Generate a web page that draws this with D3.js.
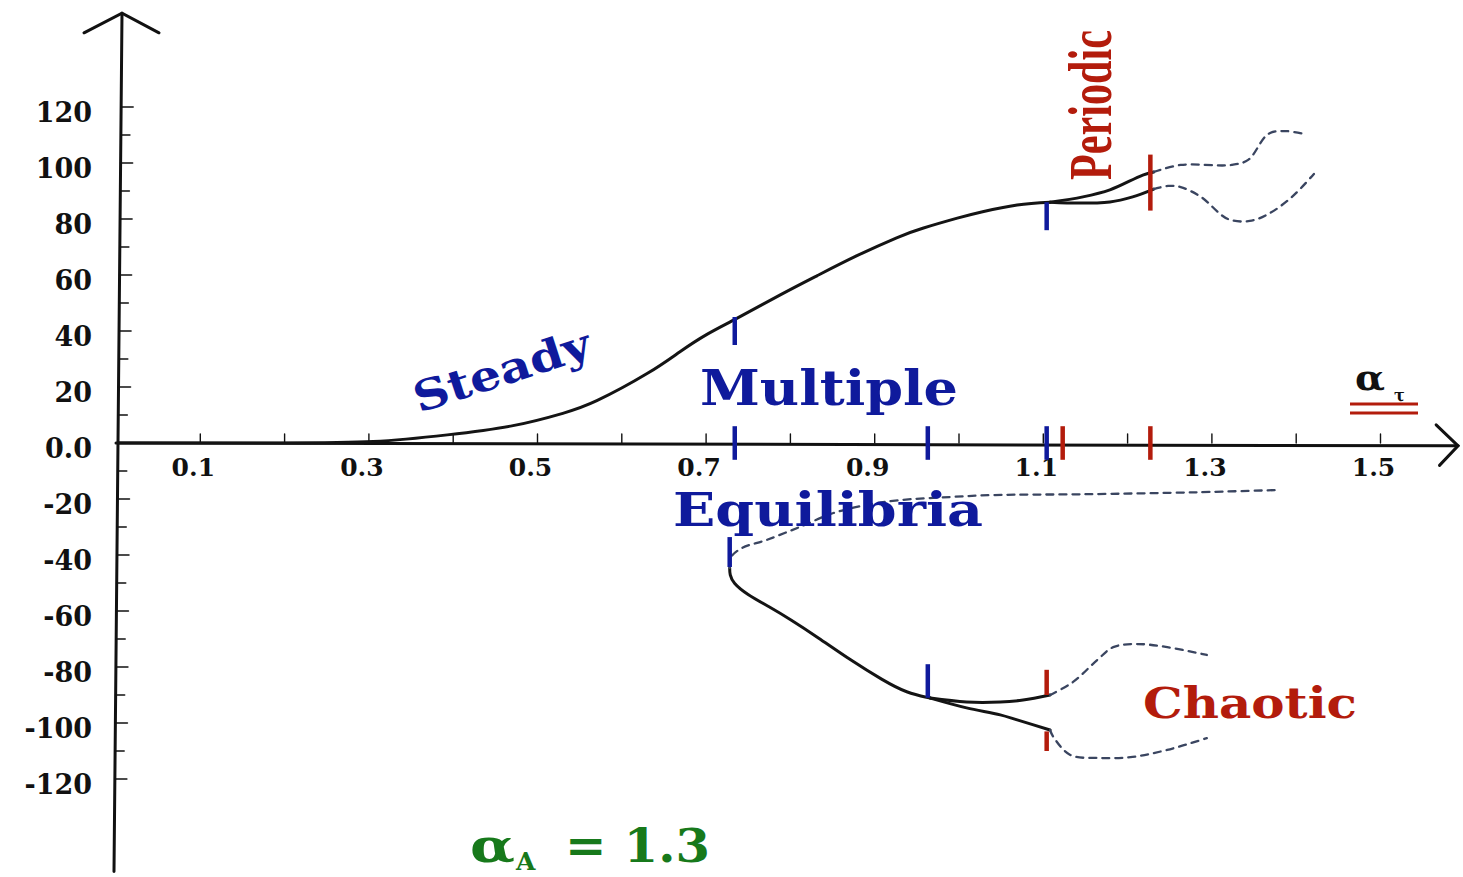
<!DOCTYPE html>
<html>
<head>
<meta charset="utf-8">
<script src="https://cdn.jsdelivr.net/npm/d3@7"></script>
<style>
  html, body { margin: 0; padding: 0; background: #fff; }
  svg { display: block; }
</style>
</head>
<body>
<svg id="chart" width="1463" height="877"></svg>
<script>
// Bifurcation diagram: response amplitude vs. alpha_tau, for alpha_A = 1.3

// Tick values and labels
const xTickValues = [0.1, 0.2, 0.3, 0.4, 0.5, 0.6, 0.7, 0.8, 0.9, 1.0, 1.1, 1.2, 1.3, 1.4, 1.5];
const xTickLabels = ["0.1", "0.3", "0.5", "0.7", "0.9", "1.1", "1.3", "1.5"];
const yTickValues = [120, 110, 100, 90, 80, 70, 60, 50, 40, 30, 20, 10, 0, -10, -20, -30, -40, -50, -60, -70, -80, -90, -100, -110, -120];
const yTickLabels = [120, 100, 80, 60, 40, 20, 0, -20, -40, -60, -80, -100, -120];

// Upper steady branch (stable), [alpha, value]
const upperBranch = [[0,0],[0.195,0],[0.305,0.5],[0.393,2.9],[0.471,6.2],[0.530,10.6],[0.571,15.2],[0.630,24.8],[0.669,32.6],[0.701,38.8],[0.737,44.6],[0.788,52.9],[0.832,59.8],[0.879,66.9],[0.926,73.3],[0.957,76.7],[0.998,80.3],[1.028,82.6],[1.069,85.0],[1.108,86.0]];
// Periodic envelope (max / min) after the Hopf point
const periodicMaxSolid = [[1.108,86.0],[1.147,87.9],[1.179,90.4],[1.218,95.7],[1.231,96.8]];
const periodicMaxDashed = [[1.231,96.8],[1.263,99.3],[1.323,99.3],[1.343,101.1],[1.367,110.4],[1.387,111.4],[1.409,110.4]];
const periodicMinSolid = [[1.108,86.0],[1.128,85.7],[1.179,86.1],[1.206,87.9],[1.231,90.7]];
const periodicMinDashed = [[1.231,90.7],[1.248,91.8],[1.263,91.4],[1.287,87.9],[1.319,80.0],[1.345,79.3],[1.367,81.8],[1.395,87.9],[1.421,96.1]];

// Lower branches born at the fold
const lowerUnstable = [[0.728,-44.6],[0.729,-41.0],[0.742,-37.6],[0.772,-34.6],[0.811,-30.0],[0.851,-25.0],[0.891,-22.1],[0.930,-20.4],[0.989,-19.3],[1.040,-18.6],[1.147,-18.3],[1.282,-17.6],[1.378,-16.8]];
const lowerStable = [[0.728,-44.6],[0.728,-47.0],[0.732,-50.0],[0.748,-54.0],[0.775,-58.5],[0.800,-63.0],[0.832,-69.3],[0.871,-77.5],[0.910,-84.8],[0.938,-89.3],[0.966,-91.1]];
const chaosMaxSolid = [[0.966,-91.1],[1.009,-92.5],[1.049,-92.5],[1.076,-91.8],[1.108,-90.0]];
const chaosMinSolid = [[0.966,-91.1],[1.009,-94.6],[1.049,-97.1],[1.069,-98.9],[1.108,-102.5]];
const chaosMaxDashed = [[1.108,-90.0],[1.135,-85.4],[1.164,-77.5],[1.183,-72.9],[1.211,-71.8],[1.247,-72.9],[1.294,-75.7]];
const chaosMinDashed = [[1.108,-102.5],[1.112,-105.0],[1.132,-111.4],[1.167,-112.5],[1.206,-112.1],[1.247,-109.6],[1.294,-105.4]];

// Bifurcation markers: [alpha, from, to, kind]
const markers = [
  [0.734, 6, -6, "blue"], [0.963, 6, -6, "blue"], [1.104, 6, -6, "blue"],
  [1.123, 6, -6, "red"], [1.227, 6, -6, "red"],
  [0.734, 45, 35, "blue"], [1.104, 86, 76, "blue"], [1.227, 103, 83, "red"],
  [0.728, -33.6, -44.3, "blue"], [0.963, -79, -91, "blue"],
  [1.104, -81, -90, "red"], [1.104, -103, -110, "red"]
];

const colors = { blue: "#0f1a9c", red: "#b31c0c", green: "#17791b", ink: "#111" };

const svg = d3.select("#chart");
svg.append("rect").attr("width", 1463).attr("height", 877).attr("fill", "#fff");

const x = d3.scaleLinear().domain([0, 1.6]).range([116, 116 + 843 * 1.6]);
const y = d3.scaleLinear().domain([-150, 150]).range([443 + 2.8 * 150, 443 - 2.8 * 150]);

const axisX0 = x(0) + 3;
const serif = "'DejaVu Serif', serif";

// --- axes ---
const axes = svg.append("g").attr("stroke", colors.ink).attr("fill", "none")
  .attr("stroke-width", 3).attr("stroke-linecap", "round");
// vertical axis with arrowhead
axes.append("line").attr("x1", axisX0 + 3).attr("y1", y(153.5))
  .attr("x2", axisX0 - 5).attr("y2", y(-153));
axes.append("polyline").attr("points",
  [[axisX0 - 35, y(146.5)], [axisX0 + 3, y(153.5)], [axisX0 + 40, y(146.5)]].map(p => p.join(",")).join(" "));
// horizontal axis with arrowhead
axes.append("line").attr("x1", axisX0).attr("y1", y(0)).attr("x2", x(1.592)).attr("y2", y(-1));
axes.append("polyline").attr("points",
  [[x(1.566), y(6.5)], [x(1.592), y(-1)], [x(1.570), y(-8)]].map(p => p.join(",")).join(" "));

// y ticks (to the right of the axis)
const slantAt = v => axisX0 - 1 + (v / 153) * 4;
axes.selectAll("line.ytick").data(yTickValues.filter(v => v !== 0)).join("line")
  .attr("class", "ytick").attr("stroke-width", 1.6)
  .attr("x1", v => slantAt(v)).attr("x2", v => slantAt(v) + (v % 20 === 0 ? 12 : 9))
  .attr("y1", v => y(v)).attr("y2", v => y(v));
// x ticks (upward)
axes.selectAll("line.xtick").data(xTickValues).join("line")
  .attr("class", "xtick").attr("stroke-width", 1.4)
  .attr("x1", v => x(v)).attr("x2", v => x(v))
  .attr("y1", y(0)).attr("y2", y(0) - 9);

// tick labels
svg.append("g").selectAll("text").data(yTickLabels).join("text")
  .attr("x", 92).attr("y", v => y(v) + 15)
  .attr("text-anchor", "end")
  .attr("font-family", serif).attr("font-weight", "bold").attr("font-size", 27)
  .attr("fill", colors.ink)
  .text(v => v === 0 ? "0.0" : String(v));
svg.append("g").selectAll("text").data(xTickLabels).join("text")
  .attr("x", d => x(+d) - 7).attr("y", 476)
  .attr("text-anchor", "middle")
  .attr("font-family", serif).attr("font-weight", "bold").attr("font-size", 25)
  .attr("fill", colors.ink)
  .text(d => d);

// --- curves ---
const smooth = d3.line().x(d => x(d[0])).y(d => y(d[1])).curve(d3.curveNatural);
const basis = d3.line().x(d => x(d[0])).y(d => y(d[1])).curve(d3.curveBasis);
const soft = d3.line().x(d => x(d[0])).y(d => y(d[1])).curve(d3.curveCatmullRom.alpha(0.5));
const curves = svg.append("g").attr("fill", "none").attr("stroke-linecap", "round");
curves.append("path").attr("d", smooth(upperBranch)).attr("stroke", "#141414").attr("stroke-width", 3);
curves.append("path").attr("d", basis(lowerStable)).attr("stroke", "#141414").attr("stroke-width", 3);
[periodicMaxSolid, periodicMinSolid, chaosMaxSolid, chaosMinSolid].forEach(d => {
  curves.append("path").attr("d", soft(d)).attr("stroke", "#141414").attr("stroke-width", 3);
});
[periodicMaxDashed, periodicMinDashed, lowerUnstable, chaosMaxDashed, chaosMinDashed].forEach(d => {
  curves.append("path").attr("d", soft(d)).attr("stroke", "#3a4560")
    .attr("stroke-width", 2.3).attr("stroke-dasharray", "7,6");
});

// --- bifurcation markers ---
svg.append("g").selectAll("line").data(markers).join("line")
  .attr("x1", d => x(d[0])).attr("x2", d => x(d[0]))
  .attr("y1", d => y(d[1])).attr("y2", d => y(d[2]))
  .attr("stroke", d => colors[d[3]]).attr("stroke-width", 4.5);

// --- annotations ---
const note = (txt, px, py, size, color, len, extra) => {
  const t = svg.append("text").attr("x", px).attr("y", py)
    .attr("font-family", serif).attr("font-weight", "bold").attr("font-size", size)
    .attr("fill", color).text(txt);
  if (len) t.attr("textLength", len).attr("lengthAdjust", "spacingAndGlyphs");
  if (extra) extra(t);
  return t;
};
note("Steady", 0, 0, 42, colors.blue, 184, t => t.attr("transform", "translate(419,413) rotate(-18)"));
note("Multiple", 700, 405, 48, colors.blue, 258);
note("Equilibria", 673, 526, 47, colors.blue, 310);
note("Chaotic", 1143, 718, 43, colors.red, 214);

// vertical, condensed "Periodic" label
const periodic = svg.append("text")
  .attr("font-family", "'Liberation Serif', serif").attr("font-weight", "bold").attr("font-size", 62)
  .attr("fill", colors.red).text("Periodic");
const natural = periodic.node().getComputedTextLength() || 220;
periodic.attr("transform", `translate(1111,180) rotate(-90) scale(${150 / natural},1)`);

// alpha_A = 1.3
note("α", 470, 862, 46, colors.green, 45);
note("A", 516, 870, 25, colors.green);
note("= 1.3", 565, 862, 46, colors.green, 145);

// axis label alpha_tau with double underline
note("α", 1355, 390, 36, colors.ink, 30);
note("τ", 1394, 401, 16, colors.ink);
svg.append("g").attr("stroke", colors.red).attr("stroke-width", 3)
  .selectAll("line").data([404, 413]).join("line")
  .attr("x1", 1350).attr("x2", 1418).attr("y1", d => d).attr("y2", d => d);
</script>
</body>
</html>
